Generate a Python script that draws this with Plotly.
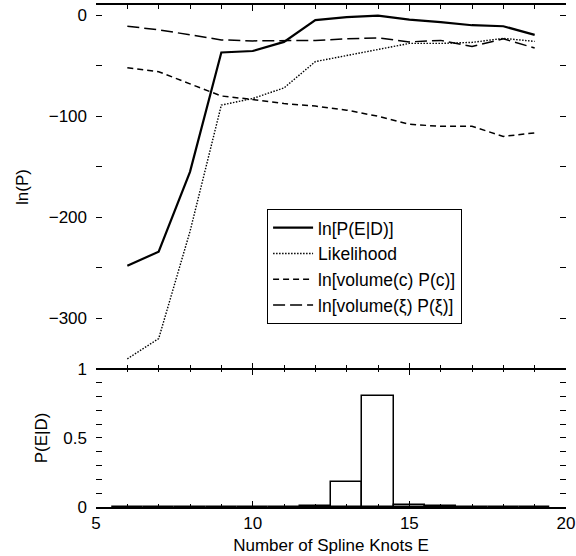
import plotly.graph_objects as go
from plotly.subplots import make_subplots

knots = [6, 7, 8, 9, 10, 11, 12, 13, 14, 15, 16, 17, 18, 19]
ln_post = [-248, -234, -155, -37, -35.5, -26.5, -5, -2, -0.5, -4.5, -7, -10, -11, -19.5]
likelihood = [-340, -320, -214, -89, -82.5, -72, -46, -40, -34, -28, -28, -27, -23, -26]
ln_vol_c = [-52, -56, -68, -80, -83.5, -87.5, -90, -94, -100, -108, -110, -110, -120, -116.5]
ln_vol_xi = [-11, -14.5, -19.5, -24.5, -25.5, -25, -25, -23.5, -22.5, -26.5, -25, -31, -23.5, -32.5]
p_post = [0, 0, 0, 0, 0, 0.002, 0.01, 0.178, 0.808, 0.015, 0.005, 0.001, 0.001, 0.001]

FONT = "Liberation Sans, Arial, sans-serif"
TICK = 17
LW = 2
SPLIT = 0.275

fig = make_subplots(rows=2, cols=1, shared_xaxes=True, vertical_spacing=0,
                    row_heights=[1 - SPLIT, SPLIT])

fig.add_trace(go.Scatter(x=knots, y=ln_post, mode="lines", name="ln[P(E|D)]",
                         line=dict(color="black", width=2.2)), row=1, col=1)
fig.add_trace(go.Scatter(x=knots, y=likelihood, mode="lines", name="Likelihood",
                         line=dict(color="black", width=1.4, dash="1.5px,1.5px")), row=1, col=1)
fig.add_trace(go.Scatter(x=knots, y=ln_vol_c, mode="lines", name="ln[volume(c) P(c)]",
                         line=dict(color="black", width=1.5, dash="6px,4px")), row=1, col=1)
fig.add_trace(go.Scatter(x=knots, y=ln_vol_xi, mode="lines", name="ln[volume(ξ) P(ξ)]",
                         line=dict(color="black", width=1.5, dash="12px,5px")), row=1, col=1)

fig.add_trace(go.Bar(x=knots, y=p_post, width=1, showlegend=False,
                     marker=dict(color="white", line=dict(color="black", width=1.5))),
              row=2, col=1)
# invisible helper traces so the tick-only axes along the panel boundary are drawn
fig.add_trace(go.Scatter(x=knots, y=p_post, xaxis="x3", yaxis="y2", mode="markers",
                         marker=dict(opacity=0), showlegend=False, hoverinfo="skip"))
fig.add_trace(go.Scatter(x=knots, y=ln_post, xaxis="x4", yaxis="y", mode="markers",
                         marker=dict(opacity=0), showlegend=False, hoverinfo="skip"))

minor_x = dict(dtick=1, tick0=5, ticks="inside", ticklen=3.5, tickcolor="black", showgrid=False)
xcommon = dict(range=[5, 20], dtick=5, tick0=5, ticks="inside", ticklen=6, tickwidth=1,
               tickcolor="black", showline=True, linecolor="black", linewidth=LW,
               showgrid=False, zeroline=False, automargin=False, minor=minor_x,
               tickfont=dict(family=FONT, size=TICK, color="black"))

fig.update_xaxes(**xcommon)
# top panel: its own axis drawn along the top edge
fig.update_xaxes(showticklabels=False, side="top", mirror=False, row=1, col=1)
fig.update_xaxes(mirror=False,
                 title=dict(text="Number of Spline Knots E",
                            font=dict(family=FONT, size=17, color="black"), standoff=7),
                 row=2, col=1)

tick_only = dict(range=[5, 20], dtick=5, tick0=5, ticks="inside", ticklen=6, tickwidth=1,
                 tickcolor="black", showline=False, showticklabels=False,
                 showgrid=False, zeroline=False, automargin=False, minor=minor_x)
fig.update_layout(
    xaxis3=dict(overlaying="x2", anchor="y2", side="top", **tick_only),
    xaxis4=dict(overlaying="x", anchor="y", side="bottom", **tick_only),
)

# frame line along the boundary between the two panels (unclipped, paper-referenced)
fig.add_shape(type="line", xref="paper", yref="paper", x0=0, x1=1, y0=SPLIT, y1=SPLIT,
              line=dict(color="black", width=LW), layer="above")

ycommon = dict(ticks="inside", ticklen=6, tickwidth=1, tickcolor="black", showline=False,
               mirror="allticks", showgrid=False, zeroline=False, ticklabelstandoff=8,
               automargin=False,
               tickfont=dict(family=FONT, size=TICK, color="black"))

fig.update_yaxes(range=[-350, 10], tickvals=[0, -100, -200, -300],
                 ticktext=["0", "\u2212100", "\u2212200", "\u2212300"],
                 minor=dict(tickvals=[-50, -150, -250, -350], ticks="inside", ticklen=3,
                            tickcolor="black", showgrid=False),
                 title=dict(text="ln(P)", font=dict(family=FONT, size=17, color="black"), standoff=15),
                 domain=[SPLIT, 1],
                 row=1, col=1, **ycommon)
fig.update_yaxes(range=[0, 1], tickvals=[0, 0.5, 1], ticktext=["0", "0.5", "1"],
                 minor=dict(dtick=0.1, tick0=0, ticks="inside", ticklen=3,
                            tickcolor="black", showgrid=False),
                 title=dict(text="P(E|D)", font=dict(family=FONT, size=17, color="black"), standoff=11),
                 domain=[0, SPLIT],
                 row=2, col=1, **ycommon)

fig.update_layout(
    template="none",
    width=576, height=556,
    margin=dict(l=96, r=10, t=5, b=49, autoexpand=False),
    paper_bgcolor="white", plot_bgcolor="rgba(0,0,0,0)",
    bargap=0,
    font=dict(family=FONT, size=17, color="black"),
    legend=dict(x=0.364, y=0.594, xanchor="left", yanchor="top",
                bordercolor="black", borderwidth=1, bgcolor="white",
                font=dict(family=FONT, size=17.5, color="black"),
                tracegroupgap=0, itemwidth=40),
    showlegend=True,
)

fig.write_html("out.html")
